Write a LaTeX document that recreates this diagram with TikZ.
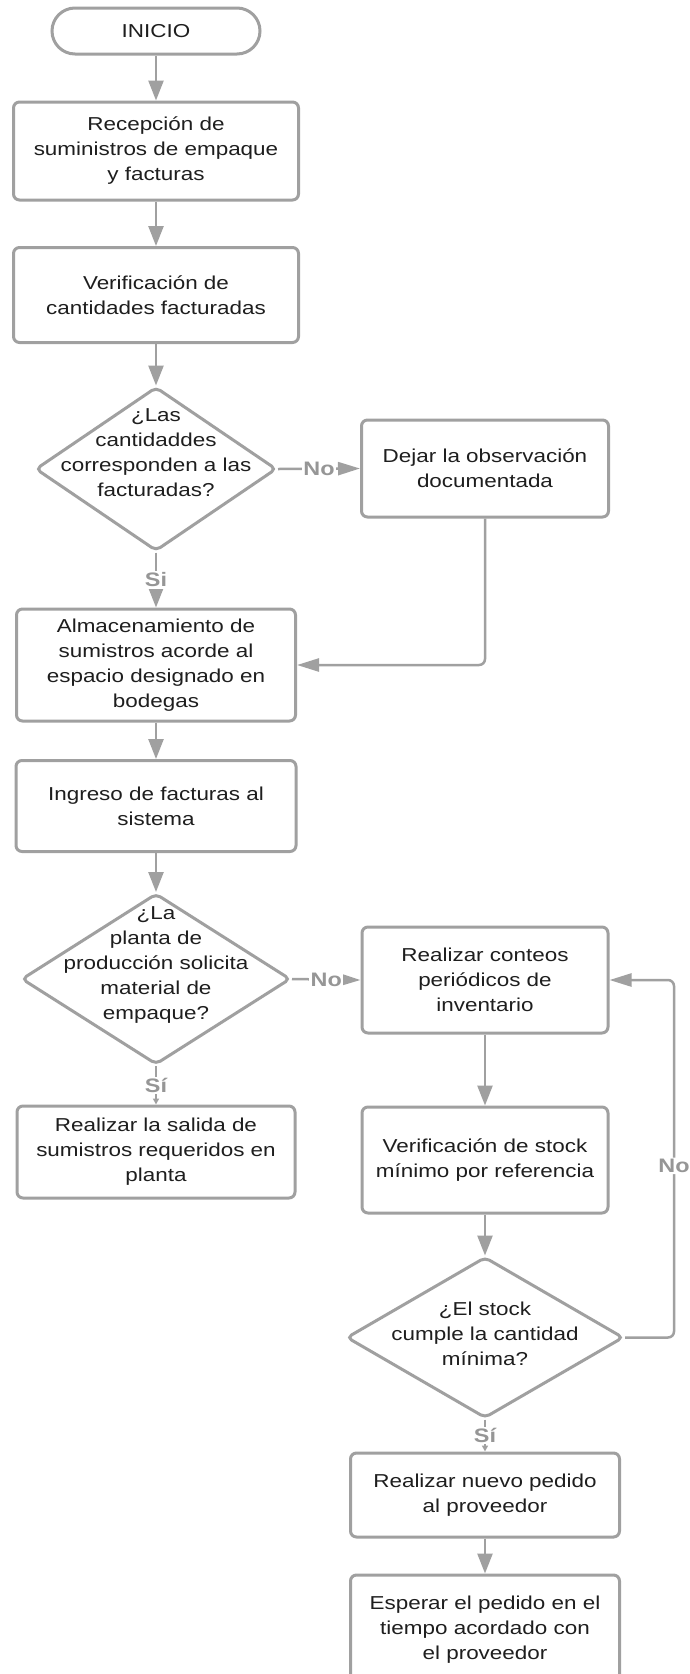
\documentclass[tikz,border=0pt]{standalone}
\usepackage{fontspec}
\setmainfont{Liberation Sans}[FakeStretch=1.2]
\usetikzlibrary{arrows.meta,shapes.geometric}
\definecolor{lcgray}{RGB}{160,160,160}
\definecolor{lclbl}{RGB}{150,150,150}
\definecolor{lctext}{RGB}{30,30,30}
\tikzset{
  box/.style={draw=lcgray, line width=3pt, rounded corners=6pt, fill=white, align=center,
    font=\fontsize{18.7}{25}\selectfont, text=lctext, inner sep=0pt},
  dia/.style={draw=lcgray, line width=3pt, diamond, rounded corners=5pt, fill=white, inner sep=0pt},
  dtext/.style={align=center, font=\fontsize{18.7}{25}\selectfont, text=lctext, inner sep=0pt},
  lbl/.style={fill=white, text=lclbl, font=\bfseries\fontsize{19.5}{21}\selectfont, inner sep=1.5pt},
  conn/.style={draw=lcgray, line width=2.5pt, -{Triangle[length=20pt,width=15pt]}},
  connh/.style={draw=lcgray, line width=2.5pt, -{Triangle[length=22pt,width=13pt]}},
  conns/.style={draw=lcgray, line width=2.5pt, -{Triangle[length=6pt,width=6pt]}},
}
\begin{document}
\begin{tikzpicture}[x=1pt,y=-1pt]
\useasboundingbox (0,0) rectangle (690,1674);
\fill[white] (0,0) rectangle (690,1674);

% left column
\node[box, rounded corners=23pt, minimum width=208pt, minimum height=46pt] (inicio) at (156,31) {INICIO};
\node[box, minimum width=285pt, minimum height=98pt] (recep) at (156,151) {Recepción de\\suministros de empaque\\y facturas};
\node[box, minimum width=285pt, minimum height=95pt] (verif) at (156,295) {Verificación de\\cantidades facturadas};
\node[dia, minimum width=241pt, minimum height=164pt] (dia1) at (156,469) {};
\node[dtext] (dia1t) at (156,453) {¿Las\\cantidaddes\\corresponden a las\\facturadas?};
\node[box, minimum width=279pt, minimum height=112pt] (alm) at (156,665) {Almacenamiento de\\sumistros acorde al\\espacio designado en\\bodegas};
\node[box, minimum width=280pt, minimum height=91pt] (ingreso) at (156,806) {Ingreso de facturas al\\sistema};
\node[dia, minimum width=269pt, minimum height=171pt] (dia2) at (156,979) {};
\node[dtext] (dia2t) at (156,965) {¿La\\planta de\\producción solicita\\material de\\empaque?};
\node[box, minimum width=278pt, minimum height=92pt] (salida) at (156,1152) {Realizar la salida de\\sumistros requeridos en\\planta};

% right column
\node[box, minimum width=247pt, minimum height=97pt] (dejar) at (485,468.5) {Dejar la observación\\documentada};
\node[box, minimum width=246pt, minimum height=106pt] (conteos) at (485,980) {Realizar conteos\\periódicos de\\inventario};
\node[box, minimum width=246pt, minimum height=106pt] (stock) at (485,1160) {Verificación de stock\\mínimo por referencia};
\node[dia, minimum width=277pt, minimum height=161pt] (dia3) at (485,1337.5) {};
\node[dtext] (dia3t) at (485,1334) {¿El stock\\cumple la cantidad\\mínima?};
\node[box, minimum width=269pt, minimum height=84pt] (pedido) at (485,1495) {Realizar nuevo pedido\\al proveedor};
\node[box, minimum width=269pt, minimum height=110pt] (esperar) at (485,1630) {Esperar el pedido en el\\tiempo acordado con\\el proveedor};

\coordinate (loopA) at (674,1337.5);
\coordinate (loopB) at (674,980);
\coordinate (dejarC) at (485,665);

% connectors
\draw[conn] (inicio) -- (recep);
\draw[conn] (recep) -- (verif);
\draw[conn] (verif) -- (dia1.north);
\draw[connh] (dia1.east) -- node[lbl] {No} (dejar.west);
\draw[conn] (dia1.south) -- node[lbl] {Si} (alm.north);
\draw[connh, rounded corners=6pt] (dejar.south) -- (dejarC) -- (alm.east);
\draw[conn] (alm) -- (ingreso);
\draw[conn] (ingreso) -- (dia2.north);
\draw[connh] (dia2.east) -- node[lbl] {No} (conteos.west);
\draw[conns] (dia2.south) -- node[lbl] {Sí} (salida.north);
\draw[conn] (conteos) -- (stock);
\draw[conn] (stock) -- (dia3.north);
\draw[conns] (dia3.south) -- node[lbl] {Sí} (pedido.north);
\draw[conn] (pedido) -- (esperar);
\draw[connh, rounded corners=6pt] (dia3.east) -- (loopA) -- node[lbl, pos=0.48] {No} (loopB) -- (conteos.east);
\end{tikzpicture}
\end{document}
